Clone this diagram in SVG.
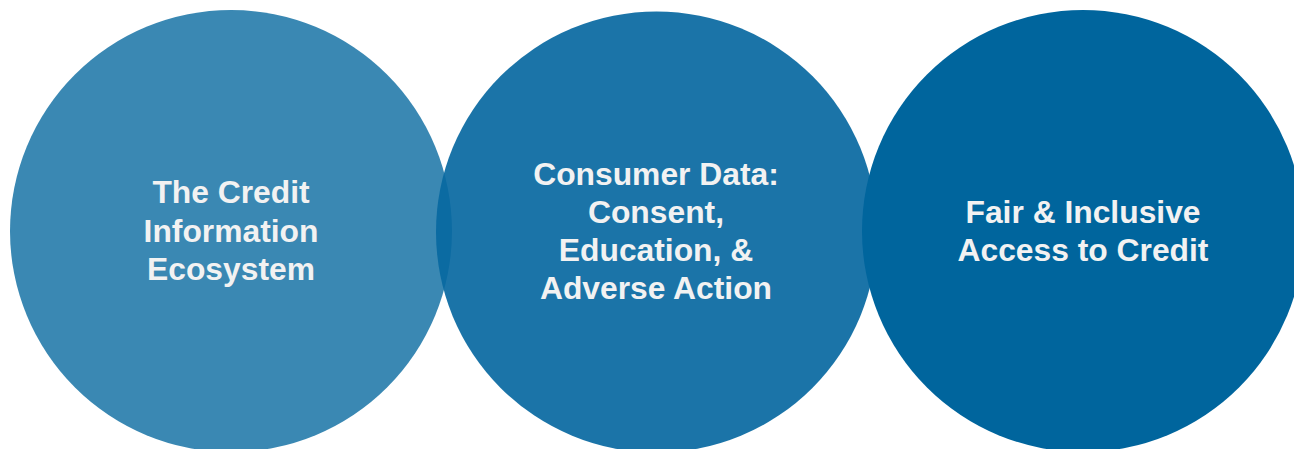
<svg xmlns="http://www.w3.org/2000/svg" width="1294" height="449" viewBox="0 0 1294 449">
<style>
.t{font-family:"Liberation Sans",Arial,sans-serif;font-weight:bold;font-size:31.8px;fill:#f2f2f2;text-anchor:middle}
</style>
<rect width="1294" height="449" fill="#ffffff"/>
<g id="node1">
<circle cx="231" cy="231" r="221" fill="#3a88b3"/>
<text class="t" x="231" y="203">The Credit</text>
<text class="t" x="231" y="242">Information</text>
<text class="t" x="231" y="280">Ecosystem</text>
</g>
<g id="node2">
<circle cx="656.5" cy="232" r="220.5" fill="#0868a1" fill-opacity="0.92"/>
<text class="t" x="656" y="185">Consumer Data:</text>
<text class="t" x="656" y="223">Consent,</text>
<text class="t" x="656" y="261">Education, &amp;</text>
<text class="t" x="656" y="299">Adverse Action</text>
</g>
<g id="node3">
<circle cx="1083" cy="231" r="221" fill="#00659d"/>
<text class="t" x="1083" y="223">Fair &amp; Inclusive</text>
<text class="t" x="1083" y="261">Access to Credit</text>
</g>
<g id="connectors"></g>
</svg>
